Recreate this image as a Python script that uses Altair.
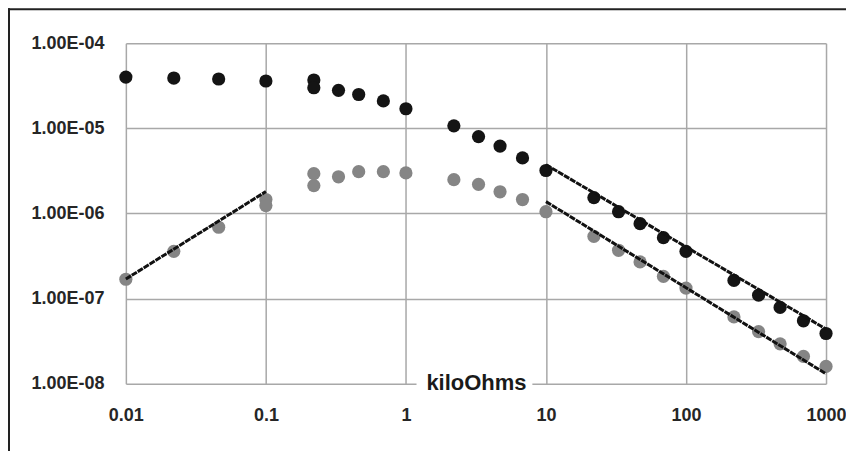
import altair as alt
import pandas as pd

# Black series (kiloOhms, value)
black_x = [0.01, 0.022, 0.046, 0.1, 0.22, 0.22, 0.33, 0.46, 0.69, 1.0,
           2.2, 3.3, 4.7, 6.8, 10, 22, 33, 47, 69, 100, 220, 330, 470, 690, 1000]
black_y = [4.0e-5, 3.9e-5, 3.8e-5, 3.6e-5, 3.7e-5, 3.0e-5, 2.8e-5, 2.5e-5, 2.1e-5, 1.7e-5,
           1.07e-5, 8.0e-6, 6.2e-6, 4.5e-6, 3.2e-6, 1.54e-6, 1.05e-6, 7.6e-7, 5.2e-7, 3.6e-7,
           1.64e-7, 1.1e-7, 7.9e-8, 5.5e-8, 3.9e-8]

# Gray series
gray_x = [0.01, 0.022, 0.046, 0.1, 0.1, 0.22, 0.22, 0.33, 0.46, 0.69, 1.0,
          2.2, 3.3, 4.7, 6.8, 10, 22, 33, 47, 69, 100, 220, 330, 470, 690, 1000]
gray_y = [1.69e-7, 3.6e-7, 6.9e-7, 1.46e-6, 1.24e-6, 2.94e-6, 2.13e-6, 2.7e-6, 3.1e-6, 3.1e-6, 3.0e-6,
          2.5e-6, 2.2e-6, 1.8e-6, 1.46e-6, 1.05e-6, 5.4e-7, 3.7e-7, 2.7e-7, 1.83e-7, 1.33e-7,
          6.1e-8, 4.1e-8, 2.95e-8, 2.1e-8, 1.6e-8]

# Trend lines (segment endpoints)
fit_id = ["low", "low", "upper", "upper", "lower", "lower"]
fit_x = [0.01, 0.1, 10, 1000, 10, 1000]
fit_y = [1.7e-7, 1.81e-6, 3.74e-6, 4.4e-8, 1.38e-6, 1.31e-8]

x_ticks = [0.01, 0.1, 1, 10, 100, 1000]
y_ticks = [1e-8, 1e-7, 1e-6, 1e-5, 1e-4]

pts = pd.DataFrame({
    "x": black_x + gray_x,
    "y": black_y + gray_y,
    "s": ["black"] * len(black_x) + ["gray"] * len(gray_x),
})
fits = pd.DataFrame({"id": fit_id, "x": fit_x, "y": fit_y})

FONT = "Liberation Sans"

xscale = alt.Scale(type="log", domain=[0.01, 1000], nice=False)
yscale = alt.Scale(type="log", domain=[1e-8, 1e-4], nice=False)

xaxis = alt.Axis(values=x_ticks, format="~g", title=None, grid=True,
                 gridColor="#a8a8a8", gridWidth=1.5, domain=False, ticks=False,
                 labelFont=FONT, labelFontSize=18, labelFontWeight="bold",
                 labelColor="#262626", labelPadding=23, labelFlush=False)
yaxis = alt.Axis(values=y_ticks,
                 labelExpr="'1.00E-0' + (-round(log(datum.value)/LN10))",
                 title=None, grid=True, gridColor="#a8a8a8", gridWidth=1.5,
                 domain=False, ticks=False,
                 labelFont=FONT, labelFontSize=18, labelFontWeight="bold",
                 labelColor="#262626", labelPadding=22, labelFlush=False)

points = alt.Chart(pts).mark_circle(size=175, opacity=1).encode(
    x=alt.X("x:Q", scale=xscale, axis=xaxis),
    y=alt.Y("y:Q", scale=yscale, axis=yaxis),
    color=alt.Color("s:N", scale=alt.Scale(domain=["black", "gray"],
                                           range=["#141414", "#858585"]),
                    legend=None),
)

lines = alt.Chart(fits).mark_line(color="#111111", strokeWidth=3,
                                  strokeDash=[6, 1]).encode(
    x=alt.X("x:Q", scale=xscale),
    y=alt.Y("y:Q", scale=yscale),
    detail="id:N",
)

title_bg = alt.Chart(pd.DataFrame({"a": [0]})).mark_rect(color="white").encode(
    x=alt.value(291), x2=alt.value(407), y=alt.value(328), y2=alt.value(352),
)
title_txt = alt.Chart(pd.DataFrame({"t": ["kiloOhms"]})).mark_text(
    font=FONT, fontSize=22, fontWeight="bold", color="#1a1a1a",
    baseline="middle", align="center",
).encode(text="t:N", x=alt.value(351), y=alt.value(340))

frame_top = alt.Chart(pd.DataFrame({"a": [0]})).mark_rule(
    color="#222222", strokeWidth=2).encode(
    x=alt.value(-118), x2=alt.value(740), y=alt.value(-34))
frame_left = alt.Chart(pd.DataFrame({"a": [0]})).mark_rule(
    color="#222222", strokeWidth=2).encode(
    x=alt.value(-117), y=alt.value(-35), y2=alt.value(430))

chart = alt.layer(points, lines, title_bg, title_txt, frame_top, frame_left).properties(
    width=701, height=341,
    autosize=alt.AutoSizeParams(type="none"),
    padding={"left": 118, "top": 35, "right": 20, "bottom": 70},
    background="white",
).configure_view(stroke=None)

chart.save("out.html", embed_options={"renderer": "svg", "actions": False})
